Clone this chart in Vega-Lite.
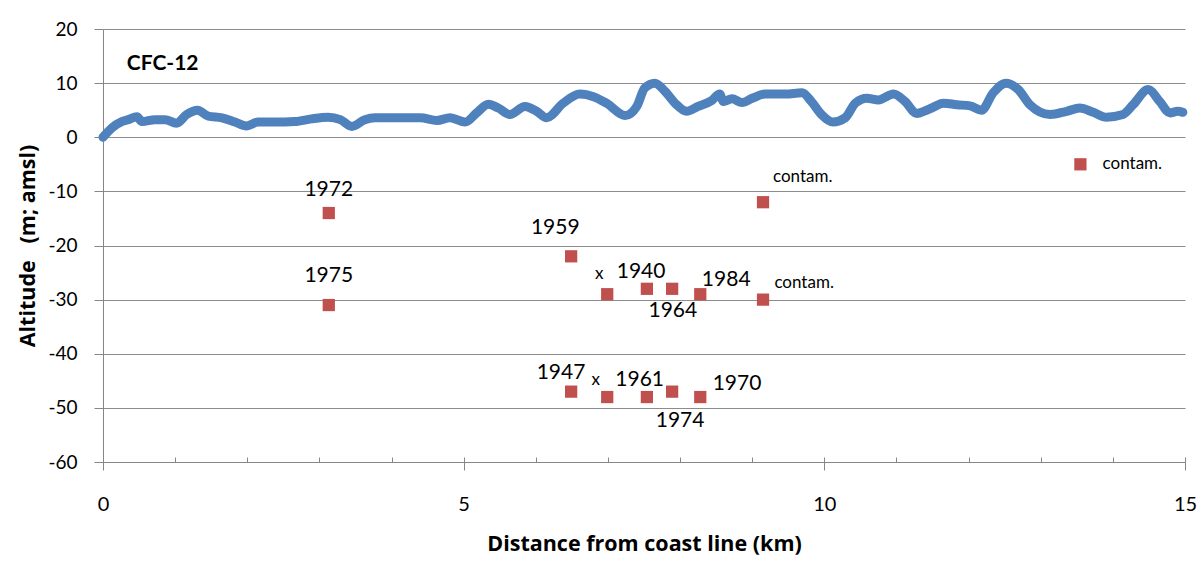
{
  "$schema": "https://vega.github.io/schema/vega-lite/v6.json",
  "width": 1082,
  "height": 433,
  "autosize": {"type": "none"},
  "padding": {"left": 103, "top": 29, "right": 18, "bottom": 102},
  "background": "white",
  "config": {
    "view": {"stroke": null},
    "font": "Lato",
    "axis": {
      "domainColor": "#868686",
      "tickColor": "#868686",
      "gridColor": "#8c8c8c",
      "labelColor": "#000000",
      "titleColor": "#000000",
      "labelFont": "Lato",
      "titleFont": "Open Sans",
      "labelFontSize": 19,
      "titleFontSize": 21.5,
      "titleFontWeight": "bold",
      "labelFlush": false,
      "labelOverlap": false
    }
  },
  "datasets": {
    "profile": [
      {"km": 0, "alt": 0}, {"km": 0.12, "alt": 1.7}, {"km": 0.26, "alt": 2.9}, {"km": 0.35, "alt": 3.25},
      {"km": 0.47, "alt": 3.8}, {"km": 0.54, "alt": 2.9}, {"km": 0.72, "alt": 3.25}, {"km": 0.86, "alt": 3.25},
      {"km": 1.02, "alt": 2.6}, {"km": 1.16, "alt": 4.2}, {"km": 1.31, "alt": 5.0}, {"km": 1.46, "alt": 3.9},
      {"km": 1.65, "alt": 3.6}, {"km": 1.83, "alt": 2.8}, {"km": 1.99, "alt": 2.1}, {"km": 2.15, "alt": 2.8},
      {"km": 2.38, "alt": 2.8}, {"km": 2.66, "alt": 2.9}, {"km": 2.89, "alt": 3.4}, {"km": 3.12, "alt": 3.7},
      {"km": 3.29, "alt": 3.25}, {"km": 3.45, "alt": 2.0}, {"km": 3.63, "alt": 3.25}, {"km": 3.77, "alt": 3.6},
      {"km": 4.07, "alt": 3.6}, {"km": 4.40, "alt": 3.6}, {"km": 4.63, "alt": 3.1}, {"km": 4.81, "alt": 3.6},
      {"km": 5.02, "alt": 2.8}, {"km": 5.18, "alt": 4.5}, {"km": 5.34, "alt": 6.1}, {"km": 5.48, "alt": 5.4},
      {"km": 5.64, "alt": 4.2}, {"km": 5.85, "alt": 5.7}, {"km": 6.01, "alt": 4.8}, {"km": 6.15, "alt": 3.6},
      {"km": 6.38, "alt": 6.3}, {"km": 6.61, "alt": 8.0}, {"km": 6.80, "alt": 7.5}, {"km": 6.98, "alt": 6.3},
      {"km": 7.24, "alt": 4.0}, {"km": 7.40, "alt": 5.7}, {"km": 7.51, "alt": 9.1}, {"km": 7.65, "alt": 10.0},
      {"km": 7.79, "alt": 8.5}, {"km": 7.93, "alt": 6.3}, {"km": 8.09, "alt": 4.8}, {"km": 8.25, "alt": 5.7},
      {"km": 8.44, "alt": 6.8}, {"km": 8.55, "alt": 8.0}, {"km": 8.60, "alt": 6.6}, {"km": 8.72, "alt": 7.1},
      {"km": 8.86, "alt": 6.4}, {"km": 9.00, "alt": 7.2}, {"km": 9.18, "alt": 8.0}, {"km": 9.46, "alt": 8.0},
      {"km": 9.69, "alt": 8.2}, {"km": 9.82, "alt": 6.6}, {"km": 9.96, "alt": 4.2}, {"km": 10.12, "alt": 2.8},
      {"km": 10.29, "alt": 3.6}, {"km": 10.43, "alt": 6.3}, {"km": 10.59, "alt": 7.2}, {"km": 10.75, "alt": 6.9},
      {"km": 10.96, "alt": 8.0}, {"km": 11.12, "alt": 6.6}, {"km": 11.28, "alt": 4.4}, {"km": 11.40, "alt": 4.9},
      {"km": 11.49, "alt": 5.4}, {"km": 11.65, "alt": 6.3}, {"km": 11.84, "alt": 6.0}, {"km": 12.02, "alt": 5.8},
      {"km": 12.18, "alt": 5.0}, {"km": 12.34, "alt": 8.2}, {"km": 12.52, "alt": 10.0}, {"km": 12.69, "alt": 8.8},
      {"km": 12.85, "alt": 6.0}, {"km": 13.13, "alt": 4.2}, {"km": 13.36, "alt": 4.8}, {"km": 13.54, "alt": 5.4},
      {"km": 13.73, "alt": 4.6}, {"km": 13.91, "alt": 3.7}, {"km": 14.14, "alt": 4.2}, {"km": 14.28, "alt": 6.0},
      {"km": 14.49, "alt": 8.8}, {"km": 14.65, "alt": 6.6}, {"km": 14.79, "alt": 4.5}, {"km": 14.90, "alt": 4.8},
      {"km": 14.97, "alt": 4.6}
    ],
    "samples": [
      {"km": 3.13, "alt": -14}, {"km": 3.13, "alt": -31}, {"km": 6.49, "alt": -22},
      {"km": 6.99, "alt": -29}, {"km": 7.54, "alt": -28}, {"km": 7.89, "alt": -28}, {"km": 8.28, "alt": -29},
      {"km": 9.15, "alt": -30}, {"km": 9.15, "alt": -12}, {"km": 13.55, "alt": -5},
      {"km": 6.49, "alt": -47}, {"km": 6.99, "alt": -48}, {"km": 7.54, "alt": -48}, {"km": 7.89, "alt": -47},
      {"km": 8.28, "alt": -48}
    ],
    "labels": [
      {"km": 3.13, "alt": -9.75, "text": "1972", "kind": "year"},
      {"km": 3.13, "alt": -25.6, "text": "1975", "kind": "year"},
      {"km": 6.27, "alt": -16.8, "text": "1959", "kind": "year"},
      {"km": 6.88, "alt": -25.3, "text": "x", "kind": "x"},
      {"km": 7.46, "alt": -24.9, "text": "1940", "kind": "year"},
      {"km": 8.64, "alt": -26.4, "text": "1984", "kind": "year"},
      {"km": 7.90, "alt": -32.1, "text": "1964", "kind": "year"},
      {"km": 6.35, "alt": -43.6, "text": "1947", "kind": "year"},
      {"km": 6.83, "alt": -44.9, "text": "x", "kind": "x"},
      {"km": 7.44, "alt": -44.9, "text": "1961", "kind": "year"},
      {"km": 8.79, "alt": -45.6, "text": "1970", "kind": "year"},
      {"km": 8.0, "alt": -52.4, "text": "1974", "kind": "year"},
      {"km": 9.70, "alt": -7.3, "text": "contam.", "kind": "contam"},
      {"km": 9.72, "alt": -26.9, "text": "contam.", "kind": "contam"},
      {"km": 14.27, "alt": -4.9, "text": "contam.", "kind": "contam"}
    ],
    "titleText": [{"km": 0.33, "alt": 13.5, "text": "CFC-12"}]
  },
  "layer": [
    {
      "data": {"name": "profile"},
      "mark": {"type": "line", "color": "#4F81BD", "strokeWidth": 9, "strokeCap": "round", "strokeJoin": "round", "interpolate": "monotone"},
      "encoding": {
        "x": {
          "field": "km", "type": "quantitative",
          "scale": {"domain": [0, 15], "nice": false, "zero": false},
          "axis": {
            "values": [0, 5, 10, 15], "tickSize": 8, "labelPadding": 24, "grid": false,
            "title": "Distance from coast line (km)", "titlePadding": 19, "orient": "bottom", "format": "d",
            "labelFontSize": 20
          }
        },
        "y": {
          "field": "alt", "type": "quantitative",
          "scale": {"domain": [-60, 20], "nice": false, "zero": false},
          "axis": {
            "values": [-60, -50, -40, -30, -20, -10, 0, 10, 20], "tickSize": 9, "labelPadding": 17,
            "labelExpr": "toString(datum.value)",
            "grid": true, "title": "Altitude\u00a0\u00a0 (m; amsl)", "titlePadding": 8
          }
        }
      }
    },
    {
      "data": {"name": "samples"},
      "mark": {"type": "square", "color": "#C0504D", "size": 150, "opacity": 1},
      "encoding": {
        "x": {
          "field": "km", "type": "quantitative",
          "axis": {
            "values": [0, 1, 2, 3, 4, 5, 6, 7, 8, 9, 10, 11, 12, 13, 14, 15], "tickSize": -5,
            "labels": false, "domain": false, "grid": false, "title": null, "orient": "bottom"
          }
        },
        "y": {"field": "alt", "type": "quantitative"}
      }
    },
    {
      "data": {"name": "labels"},
      "transform": [{"filter": "datum.kind === 'year'"}],
      "mark": {"type": "text", "fontSize": 21, "color": "#000000", "align": "center", "baseline": "middle", "font": "Lato"},
      "encoding": {
        "x": {"field": "km", "type": "quantitative", "axis": null},
        "y": {"field": "alt", "type": "quantitative"},
        "text": {"field": "text"}
      }
    },
    {
      "data": {"name": "labels"},
      "transform": [{"filter": "datum.kind === 'x'"}],
      "mark": {"type": "text", "fontSize": 17, "color": "#000000", "align": "center", "baseline": "middle", "font": "Lato"},
      "encoding": {
        "x": {"field": "km", "type": "quantitative", "axis": null},
        "y": {"field": "alt", "type": "quantitative"},
        "text": {"field": "text"}
      }
    },
    {
      "data": {"name": "labels"},
      "transform": [{"filter": "datum.kind === 'contam'"}],
      "mark": {"type": "text", "fontSize": 17, "color": "#000000", "align": "center", "baseline": "middle", "font": "Lato"},
      "encoding": {
        "x": {"field": "km", "type": "quantitative", "axis": null},
        "y": {"field": "alt", "type": "quantitative"},
        "text": {"field": "text"}
      }
    },
    {
      "data": {"name": "titleText"},
      "mark": {"type": "text", "fontSize": 21, "fontWeight": "bold", "color": "#000000", "align": "left", "baseline": "middle", "font": "Lato"},
      "encoding": {
        "x": {"field": "km", "type": "quantitative", "axis": null},
        "y": {"field": "alt", "type": "quantitative"},
        "text": {"field": "text"}
      }
    }
  ],
  "resolve": {"axis": {"x": "independent"}}
}
